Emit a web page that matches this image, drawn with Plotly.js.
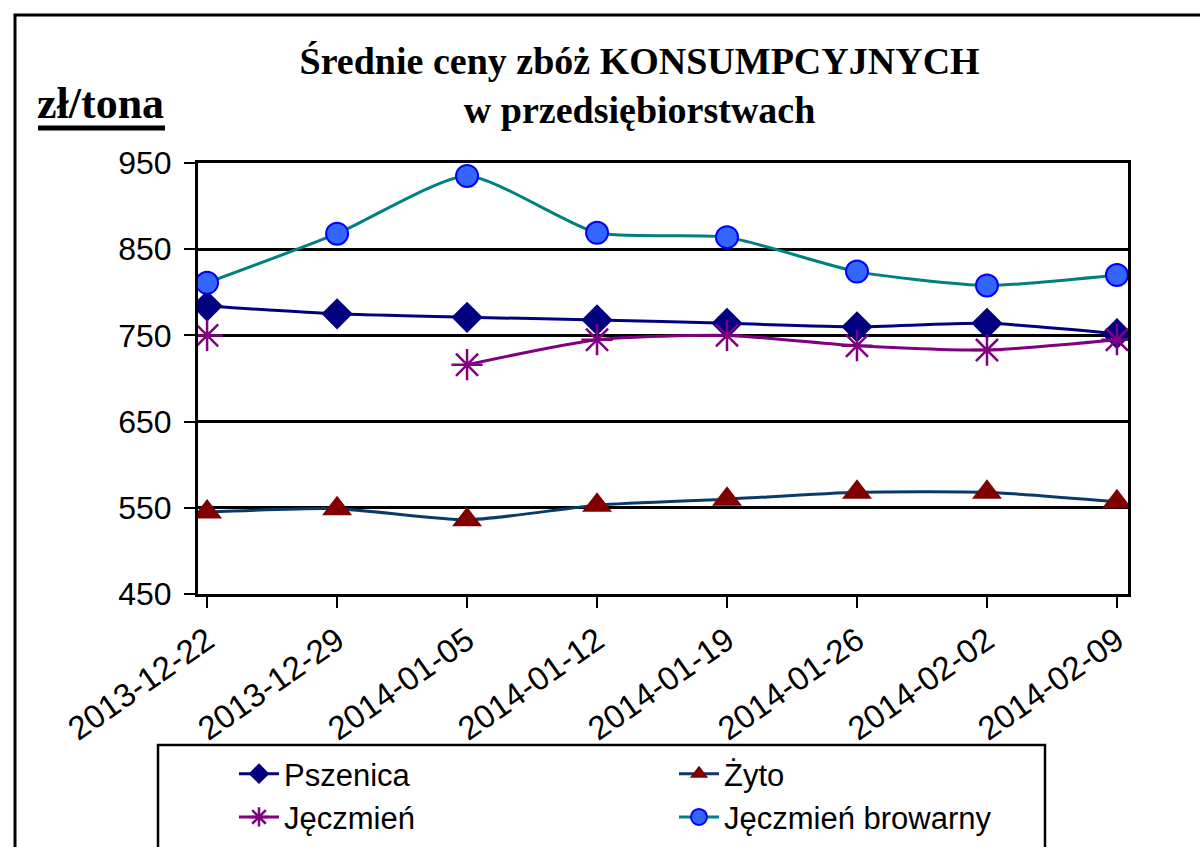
<!DOCTYPE html>
<html>
<head>
<meta charset="utf-8">
<script src="https://cdn.plot.ly/plotly-3.0.1.min.js"></script>
<style>html,body{margin:0;padding:0;background:#fff;}#chart{width:1200px;height:847px;}</style>
</head>
<body>
<div id="chart"></div>
<script>
// ---- data ----
const dates = ["2013-12-22","2013-12-29","2014-01-05","2014-01-12","2014-01-19","2014-01-26","2014-02-02","2014-02-09"];
const pszenica = [784, 775, 771, 768, 764, 760, 764, 752];
const zyto = [545, 549, 536, 553, 560, 568, 568, 557];
const jeczmien = [750, null, 716, 745, 750, 738, 733, 745];
const jeczmienBrowarny = [811, 868, 935, 869, 864, 824, 808, 820];
const seriesNames = ["Pszenica", "Żyto", "Jęczmień", "Jęczmień browarny"];
const yTicks = [450, 550, 650, 750, 850, 950];

const sans = "Liberation Sans, Arial, sans-serif";
const serif = "Liberation Serif, Times New Roman, serif";

// paper coordinate helpers (plot area: x 198..1128, y 163..594 px)
const px = v => (v - 198) / 930;
const py = v => (594 - v) / 431;

const traces = [
  {x: dates, y: pszenica, name: seriesNames[0], legend: "legend", mode: "lines+markers", type: "scatter",
   line: {color: "#000080", width: 3, shape: "spline", smoothing: 0.6},
   marker: {symbol: "diamond", size: 24, color: "#000080"}},
  {x: dates, y: zyto, name: seriesNames[1], legend: "legend2", mode: "lines+markers", type: "scatter",
   line: {color: "#0a3a6a", width: 3, shape: "spline", smoothing: 0.6},
   marker: {symbol: "triangle-up", size: 26, color: "#800000"}},
  {x: dates, y: jeczmien, name: seriesNames[2], legend: "legend", mode: "lines+markers", type: "scatter", connectgaps: false,
   line: {color: "#800080", width: 3, shape: "spline", smoothing: 0.6},
   marker: {symbol: "asterisk-open", size: 26, color: "#800080", line: {color: "#800080", width: 2.5}}},
  {x: dates, y: jeczmienBrowarny, name: seriesNames[3], legend: "legend2", mode: "lines+markers", type: "scatter",
   line: {color: "#008080", width: 3, shape: "spline", smoothing: 0.6},
   marker: {symbol: "circle", size: 22, color: "#3366ff", line: {color: "#0000ff", width: 2}}}
];

const legendCommon = {
  orientation: "v", xanchor: "left", yanchor: "top", xref: "paper", yref: "paper",
  bgcolor: "rgba(0,0,0,0)", borderwidth: 0,
  font: {family: sans, size: 31, color: "#000"},
  traceorder: "normal", itemwidth: 40, tracegroupgap: 0
};

const layout = {
  width: 1200, height: 847, autosize: false,
  margin: {l: 198, r: 72, t: 163, b: 253, pad: 0, autoexpand: false},
  paper_bgcolor: "#ffffff", plot_bgcolor: "#ffffff",
  showlegend: true,
  title: {
    text: "<b>Średnie ceny zbóż KONSUMPCYJNYCH<br>w przedsiębiorstwach</b>",
    font: {family: serif, size: 38, color: "#000"},
    x: 0.533, xanchor: "center", xref: "container",
    y: 0.913, yanchor: "top", yref: "container"
  },
  xaxis: {
    type: "category", automargin: false,
    range: [-0.07, 7.085],
    showline: true, linecolor: "#000", linewidth: 3, mirror: true,
    ticks: "outside", ticklen: 11, tickwidth: 2, tickcolor: "#000",
    tickangle: -35,
    tickfont: {family: sans, size: 33, color: "#000"},
    showgrid: false, zeroline: false, fixedrange: true
  },
  yaxis: {
    range: [450, 950], automargin: false,
    tickvals: yTicks,
    ticktext: yTicks.map(String),
    showline: true, linecolor: "#000", linewidth: 3, mirror: true,
    ticks: "outside", ticklen: 11, tickwidth: 2, tickcolor: "#000",
    ticklabelstandoff: 6,
    tickfont: {family: sans, size: 32, color: "#000"},
    showgrid: true, gridcolor: "#000", gridwidth: 3,
    zeroline: false, fixedrange: true
  },
  legend: Object.assign({}, legendCommon, {x: px(234), y: py(747)}),
  legend2: Object.assign({}, legendCommon, {x: px(674), y: py(747)}),
  annotations: [
    {text: "<b>zł/tona</b>", xref: "paper", yref: "paper",
     x: px(35), xanchor: "left", y: py(130), yanchor: "bottom",
     showarrow: false, font: {family: serif, size: 44, color: "#000"}}
  ],
  shapes: [
    {type: "rect", xref: "paper", yref: "paper",
     x0: px(15), x1: 1.2, y0: -0.8, y1: py(15),
     line: {color: "#000", width: 3}, fillcolor: "rgba(0,0,0,0)", layer: "below"},
    {type: "rect", xref: "paper", yref: "paper",
     x0: px(158), x1: px(1045), y0: py(860), y1: py(745),
     line: {color: "#000", width: 2.5}, fillcolor: "#ffffff", layer: "below"},
    {type: "line", xref: "paper", yref: "paper",
     x0: px(38), x1: px(165), y0: py(128), y1: py(128),
     line: {color: "#000", width: 5}}
  ]
};

Plotly.newPlot("chart", traces, layout, {displayModeBar: false, staticPlot: true});
</script>
</body>
</html>
